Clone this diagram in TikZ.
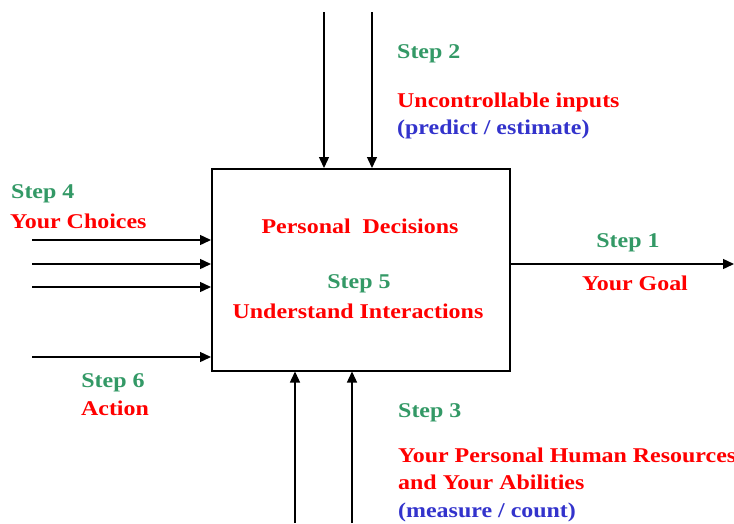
\documentclass[tikz,border=0pt]{standalone}
\usepackage{fontspec}
\setmainfont{Liberation Serif}[FakeStretch=1.14]
\usetikzlibrary{arrows.meta}
\definecolor{stepgreen}{RGB}{51,153,102}
\definecolor{txtred}{RGB}{255,0,0}
\definecolor{txtblue}{RGB}{51,51,204}
\tikzset{
  lbl/.style={font=\bfseries\fontsize{21}{25}\selectfont, inner sep=0pt},
  steptxt/.style={lbl, text=stepgreen},
  redtxt/.style={lbl, text=txtred},
  bluetxt/.style={lbl, text=txtblue},
  arr/.style={line width=1.4pt, -{Triangle[length=11pt,width=10pt]}},
  procbox/.style={draw, line width=1.5pt, inner sep=0pt, minimum width=298pt, minimum height=202pt}
}
\begin{document}
\begin{tikzpicture}[x=1pt,y=-1pt]
\useasboundingbox (0,0) rectangle (734,523);
\fill[white] (0,0) rectangle (734,523);
\node[procbox, anchor=north west] (box) at (211,168) {};
% top inputs
\coordinate (t1) at (324,12);
\coordinate (t2) at (372,12);
\draw[arr] (t1) -- (t1 |- box.north);
\draw[arr] (t2) -- (t2 |- box.north);
% left inputs
\coordinate (l1) at (32,240);
\coordinate (l2) at (32,264);
\coordinate (l3) at (32,287);
\coordinate (l4) at (32,357);
\draw[arr] (l1) -- (l1 -| box.west);
\draw[arr] (l2) -- (l2 -| box.west);
\draw[arr] (l3) -- (l3 -| box.west);
\draw[arr] (l4) -- (l4 -| box.west);
% bottom inputs
\coordinate (b1) at (295,523);
\coordinate (b2) at (352,523);
\draw[arr] (b1) -- (b1 |- box.south);
\draw[arr] (b2) -- (b2 |- box.south);
% output
\coordinate (goal) at (734,264);
\draw[arr] (goal -| box.east) -- (goal);
% texts
\node[steptxt, anchor=base west] (s2) at (397,58) {Step 2};
\node[redtxt, anchor=base west] (u1) at (397,107.5) {Uncontrollable inputs};
\node[bluetxt, anchor=base west] (u2) at (397,134) {(predict / estimate)};
\node[steptxt, anchor=base west] (s4) at (11,198) {Step 4};
\node[redtxt, anchor=base west] (c4) at (10,228) {Your Choices};
\node[redtxt, anchor=base] (pd) at (360,233) {Personal\ \ Decisions};
\node[steptxt, anchor=base] (s5) at (359,288) {Step 5};
\node[redtxt, anchor=base] (ui) at (358,318) {Understand Interactions};
\node[steptxt, anchor=base] (s1) at (628,247) {Step 1};
\node[redtxt, anchor=base] (g1) at (635,290) {Your Goal};
\node[steptxt, anchor=base] (s6) at (113,387) {Step 6};
\node[redtxt, anchor=base] (a6) at (115,415) {Action};
\node[steptxt, anchor=base west] (s3) at (398,417) {Step 3};
\node[redtxt, anchor=base west] (r1) at (398,462) {Your Personal Human Resources};
\node[redtxt, anchor=base west] (r2) at (398,489) {and Your Abilities};
\node[bluetxt, anchor=base west] (r3) at (398,517) {(measure / count)};
\end{tikzpicture}
\end{document}
